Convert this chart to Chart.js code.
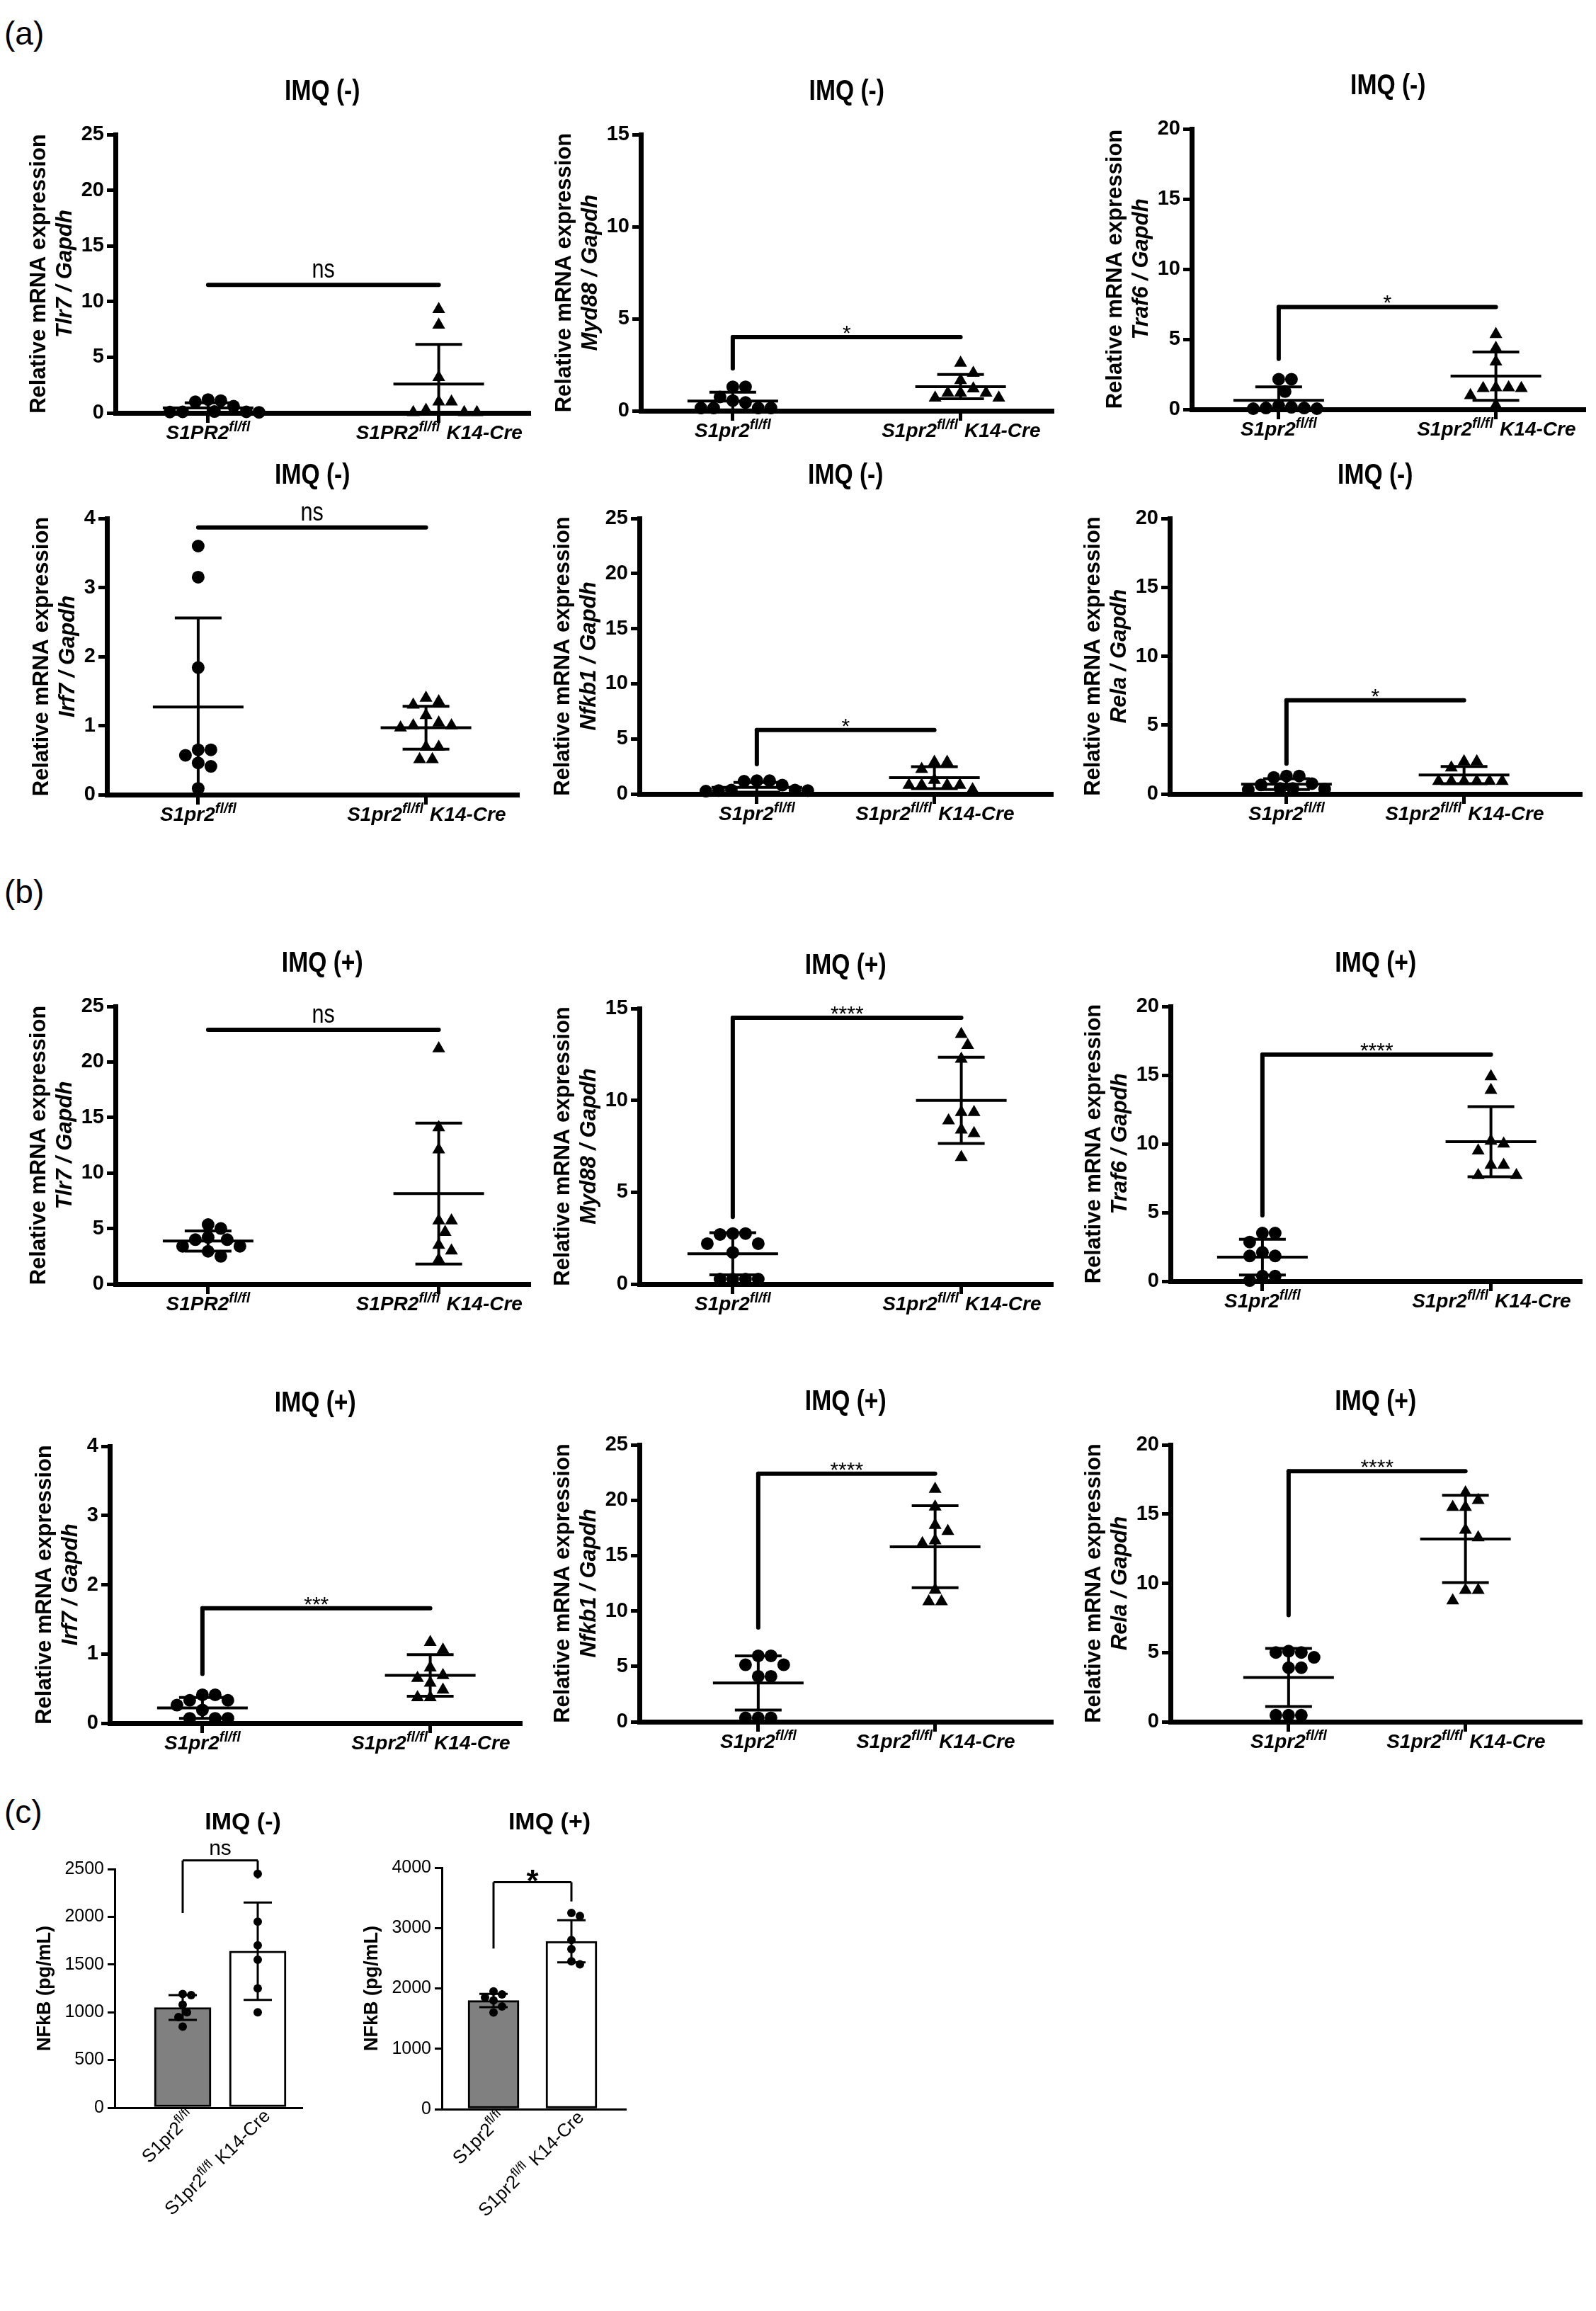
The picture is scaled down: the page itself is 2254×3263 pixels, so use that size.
<!DOCTYPE html>
<html>
<head>
<meta charset="utf-8">
<script src="https://cdn.jsdelivr.net/npm/chart.js@4.4.0/dist/chart.umd.min.js"></script>
<style>
  body { margin: 0; background: #fff; width: 2254px; height: 3263px; position: relative; overflow: hidden; }
  canvas { position: absolute; }
  .letter { position: absolute; left: 6px; font: 46px "Liberation Sans", Arial, sans-serif; color: #000; }
</style>
</head>
<body>
<div class="letter" style="top:20px">(a)</div>
<div class="letter" style="top:1232px">(b)</div>
<div class="letter" style="top:2531px">(c)</div>
<script>
// ---- labels ----
const groupsUpper = [["S1PR2", "fl/fl", ""], ["S1PR2", "fl/fl", " K14-Cre"]];
const groupsLower = [["S1pr2", "fl/fl", ""], ["S1pr2", "fl/fl", " K14-Cre"]];
const yTitleMain = "Relative mRNA expression";

// ---- (a) IMQ (-) ----
const tlr7NegFl = [1.2, 1.1, 0.1, 0.05, 0.08, 0.1, 0.12, 0.6, 1.0];
const tlr7NegCre = [9.3, 7.9, 3.2, 1.0, 1.0, 0.05, 0.05, 0.05, 0.25];
const tlr7NegMean = [0.45, 2.6];
const tlr7NegSd = [0.45, 3.55];

const myd88NegFl = [1.3, 1.3, 0.75, 0.45, 0.55, 0.15, 0.15, 0.15, 0.15];
const myd88NegCre = [2.6, 2.05, 1.65, 1.2, 0.97, 0.97, 0.97, 0.7, 0.7];
const myd88NegMean = [0.53, 1.31];
const myd88NegSd = [0.48, 0.66];

const traf6NegFl = [2.15, 2.15, 1.27, 0.15, 0.1, 0.05, 0.1, 0.25, 0.05];
const traf6NegCre = [5.35, 4.37, 3.4, 1.55, 1.5, 1.55, 1.5, 1.0, 0.3];
const traf6NegMean = [0.65, 2.37];
const traf6NegSd = [0.95, 1.72];

const irf7NegFl = [3.6, 3.15, 1.84, 0.65, 0.65, 0.57, 0.46, 0.41, 0.09];
const irf7NegCre = [1.4, 1.35, 1.3, 1.15, 1.04, 1.0, 1.0, 0.97, 0.69, 0.69, 0.51, 0.51];
const irf7NegMean = [1.27, 0.97];
const irf7NegSd = [1.29, 0.31];

const nfkb1NegFl = [1.2, 1.15, 1.2, 0.8, 0.35, 0.3, 0.25, 0.3, 0.35];
const nfkb1NegCre = [2.9, 2.9, 2.25, 1.25, 0.8, 0.8, 0.8, 0.8, 0.4];
const nfkb1NegMean = [0.6, 1.48];
const nfkb1NegSd = [0.44, 1.0];

const relaNegFl = [1.3, 1.2, 1.3, 0.75, 0.65, 0.4, 0.3, 0.35, 0.4];
const relaNegCre = [1.9, 2.35, 2.35, 0.92, 0.92, 0.92, 0.92, 0.92, 0.92];
const relaNegMean = [0.71, 1.37];
const relaNegSd = [0.39, 0.62];

// ---- (b) IMQ (+) ----
const tlr7PosFl = [5.35, 5.0, 4.2, 4.0, 4.0, 3.4, 3.4, 2.95, 2.5];
const tlr7PosCre = [21.2, 14.1, 12.1, 5.7, 5.7, 4.67, 3.5, 3.0, 2.2];
const tlr7PosMean = [3.87, 8.15];
const tlr7PosSd = [0.91, 6.35];

const myd88PosFl = [2.75, 2.75, 2.7, 2.2, 2.2, 1.72, 0.27, 0.27, 0.27, 0.27];
const myd88PosCre = [13.6, 13.0, 12.25, 9.35, 9.35, 8.9, 8.4, 8.2, 6.9];
const myd88PosMean = [1.65, 10.0];
const myd88PosSd = [1.15, 2.35];

const traf6PosFl = [3.5, 3.5, 2.85, 2.1, 1.84, 1.84, 0.37, 0.37, 0.05];
const traf6PosCre = [14.9, 13.9, 10.0, 10.2, 9.5, 8.45, 8.45, 7.7, 7.7];
const traf6PosMean = [1.75, 10.15];
const traf6PosSd = [1.3, 2.55];

const irf7PosFl = [0.41, 0.41, 0.33, 0.33, 0.26, 0.19, 0.07, 0.07, 0.07];
const irf7PosCre = [1.17, 1.06, 0.8, 0.69, 0.65, 0.58, 0.48, 0.37, 0.37];
const irf7PosMean = [0.22, 0.69];
const irf7PosSd = [0.15, 0.3];

const nfkb1PosFl = [5.95, 5.95, 5.14, 5.14, 4.1, 4.1, 0.35, 0.35, 0.35];
const nfkb1PosCre = [21.0, 19.4, 17.75, 17.2, 16.35, 16.1, 11.9, 10.85, 10.85];
const nfkb1PosMean = [3.5, 15.8];
const nfkb1PosSd = [2.45, 3.7];

const relaPosFl = [5.0, 5.0, 5.1, 4.65, 3.9, 3.9, 0.47, 0.47, 0.47];
const relaPosCre = [16.55, 16.0, 15.5, 15.5, 13.85, 13.3, 9.5, 9.5, 8.75];
const relaPosMean = [3.2, 13.2];
const relaPosSd = [2.1, 3.15];

// ---- (c) NFkB ELISA ----
const nfkbNegFl = [1180, 1190, 1080, 1000, 950, 850];
const nfkbNegCre = [2450, 1950, 1700, 1550, 1250, 1000];
const nfkbNegMean = [1050, 1640];
const nfkbNegSd = [130, 510];

const nfkbPosFl = [1950, 1900, 1850, 1800, 1700, 1600];
const nfkbPosCre = [3250, 3200, 2800, 2650, 2450, 2400];
const nfkbPosMean = [1800, 2780];
const nfkbPosSd = [110, 350];

const FONT = '"Liberation Sans", Arial, Helvetica, sans-serif';

// place points side by side when they would overlap (like a dot plot)
function swarm(values, center, pxX, pxY, diam) {
  const placed = [];
  const out = new Array(values.length);
  const order = values.map((v, i) => i).sort((a, b) => values[b] - values[a]);
  order.forEach(i => {
    const py = values[i] * pxY;
    let off = 0;
    for (let k = 0; k < 80; k++) {
      const cand = (k % 2 ? 1 : -1) * Math.ceil(k / 2) * diam * 0.5;
      if (placed.every(q => Math.hypot(q.x - cand, q.y - py) >= diam * 0.98)) { off = cand; break; }
    }
    placed.push({ x: off, y: py });
    out[i] = { x: center + off / pxX, y: values[i] };
  });
  return out;
}

function seg(ctx, x1, y1, x2, y2) {
  ctx.beginPath();
  ctx.moveTo(x1, y1);
  ctx.lineTo(x2, y2);
  ctx.stroke();
}

// label with superscript part, e.g. S1pr2^fl/fl K14-Cre
function labelWidth(ctx, parts, size, style) {
  ctx.font = `${style} ${size}px ${FONT}`;
  let w = ctx.measureText(parts[0]).width + ctx.measureText(parts[2]).width;
  ctx.font = `${style} ${Math.round(size * 0.7)}px ${FONT}`;
  return w + ctx.measureText(parts[1]).width;
}
function drawLabel(ctx, parts, x, y, size, style) {
  ctx.textAlign = 'left';
  ctx.textBaseline = 'alphabetic';
  ctx.font = `${style} ${size}px ${FONT}`;
  ctx.fillText(parts[0], x, y);
  x += ctx.measureText(parts[0]).width;
  ctx.font = `${style} ${Math.round(size * 0.7)}px ${FONT}`;
  ctx.fillText(parts[1], x, y - size * 0.38);
  x += ctx.measureText(parts[1]).width + size * 0.05;
  ctx.font = `${style} ${size}px ${FONT}`;
  ctx.fillText(parts[2], x, y);
}

// narrow bold text, close to the condensed face of the original
function condensedText(ctx, txt, x, y, size, weight, squeeze) {
  ctx.save();
  ctx.translate(x, y);
  ctx.scale(squeeze, 1);
  ctx.font = `${weight} ${size}px ${FONT}`;
  ctx.textAlign = 'center';
  ctx.fillText(txt, 0, 0);
  ctx.restore();
}

function makeCanvas(left, top, w, h) {
  const c = document.createElement('canvas');
  c.width = w; c.height = h;
  c.style.left = left + 'px';
  c.style.top = top + 'px';
  c.style.width = w + 'px';
  c.style.height = h + 'px';
  document.body.appendChild(c);
  return c;
}

// ---- dot plot panels (a) and (b) ----
function dotPlotPlugin(p) {
  return {
    id: 'dotPlot',
    afterDraw(chart) {
      const { ctx, chartArea: a, scales: { x, y } } = chart;
      const cx = [x.getPixelForValue(1), x.getPixelForValue(2)];
      ctx.save();
      ctx.strokeStyle = '#000';
      ctx.fillStyle = '#000';

      // mean and SD
      ctx.lineWidth = 4;
      p.mean.forEach((m, i) => {
        const hi = y.getPixelForValue(m + p.sd[i]);
        const lowVal = m - p.sd[i];
        const lo = y.getPixelForValue(Math.max(lowVal, 0));
        const my = y.getPixelForValue(m);
        seg(ctx, cx[i] - 64, my, cx[i] + 64, my);
        seg(ctx, cx[i], hi, cx[i], lo);
        seg(ctx, cx[i] - 33, hi, cx[i] + 33, hi);
        if (lowVal > 0) seg(ctx, cx[i] - 33, lo, cx[i] + 33, lo);
      });

      // significance bracket
      const by = y.getPixelForValue(p.sig.y);
      ctx.lineWidth = 6;
      ctx.lineCap = 'round';
      seg(ctx, cx[0], by, cx[1], by);
      if (p.sig.leg !== null) seg(ctx, cx[0], by, cx[0], y.getPixelForValue(p.sig.leg));
      ctx.textBaseline = 'alphabetic';
      if (p.sig.text === 'ns') {
        condensedText(ctx, 'ns', (cx[0] + cx[1]) / 2, by - 10, 36, 'normal', 0.85);
      } else {
        condensedText(ctx, p.sig.text, (cx[0] + cx[1]) / 2, by + 4, 30, 'normal', 1);
      }

      // title
      ctx.textBaseline = 'middle';
      condensedText(ctx, p.title, (a.left + a.right) / 2, a.top - 60, 41, 'bold', 0.82);

      // group labels
      p.labels.forEach((parts, i) => {
        const w = labelWidth(ctx, parts, 28, 'italic bold');
        drawLabel(ctx, parts, cx[i] - w / 2, a.bottom + 37, 28, 'italic bold');
      });

      // y axis title (two lines)
      ctx.font = `bold 29px ${FONT}`;
      const tickW = ctx.measureText(String(p.yMax)).width;
      const x2 = a.left - 16 - tickW - 22;
      const x1 = x2 - 37;
      const yc = (a.top + a.bottom) / 2;
      ctx.textAlign = 'center';
      ctx.textBaseline = 'middle';
      [[x1, 'bold', yTitleMain], [x2, 'italic bold', p.gene + ' / Gapdh']].forEach(([lx, st, txt]) => {
        ctx.save();
        ctx.translate(lx, yc);
        ctx.rotate(-Math.PI / 2);
        ctx.font = `${st} 31px ${FONT}`;
        ctx.fillText(txt, 0, 0);
        ctx.restore();
      });
      ctx.restore();
    }
  };
}

function dotPanel(p) {
  const b = p.box;
  const padL = 175, padT = 100, padR = 10, padB = 60;
  const w = b.right - b.axisX + padL + padR;
  const h = b.y0 - b.yTop + padT + padB;
  const canvas = makeCanvas(b.axisX - padL, b.yTop - padT, w, h);
  const ppu = b.cat2 - b.cat1;
  const pxY = (b.y0 - b.yTop) / p.yMax;
  new Chart(canvas, {
    type: 'scatter',
    data: {
      datasets: [
        { data: swarm(p.fl, 1, ppu, pxY, 18), pointStyle: 'circle', pointRadius: 9, backgroundColor: '#000', borderWidth: 0, clip: false },
        { data: swarm(p.cre, 2, ppu, pxY, 18), pointStyle: 'triangle', pointRadius: 10.5, backgroundColor: '#000', borderColor: '#000', borderWidth: 0, clip: false }
      ]
    },
    options: {
      responsive: false,
      animation: false,
      events: [],
      layout: { padding: { left: 0, top: padT, right: padR, bottom: 0 } },
      plugins: { legend: { display: false }, tooltip: { enabled: false } },
      scales: {
        x: {
          type: 'linear',
          min: 1 - (b.cat1 - b.axisX) / ppu,
          max: 2 + (b.right - b.cat2) / ppu,
          afterBuildTicks: s => { s.ticks = [{ value: 1 }, { value: 2 }]; },
          afterFit: s => { s.height = padB; },
          ticks: { display: false },
          grid: { drawOnChartArea: false, drawTicks: true, tickLength: 14, lineWidth: 5, color: '#000' },
          border: { display: true, width: 7, color: '#000' }
        },
        y: {
          min: 0,
          max: p.yMax,
          afterFit: s => { s.width = padL; },
          ticks: { stepSize: p.step, color: '#000', padding: 4, font: { family: FONT, size: 29, weight: 'bold' } },
          grid: { drawOnChartArea: false, tickLength: 12, lineWidth: 5, color: '#000' },
          border: { display: true, width: 7, color: '#000' }
        }
      }
    },
    plugins: [dotPlotPlugin(p)]
  });
}

const dotPanels = [
  { gene: 'Tlr7', title: 'IMQ (-)', fl: tlr7NegFl, cre: tlr7NegCre, mean: tlr7NegMean, sd: tlr7NegSd, yMax: 25, step: 5,
    sig: { y: 11.5, leg: null, text: 'ns' }, labels: groupsUpper,
    box: { axisX: 163, yTop: 190, y0: 583, cat1: 294, cat2: 620, right: 748 } },
  { gene: 'Myd88', title: 'IMQ (-)', fl: myd88NegFl, cre: myd88NegCre, mean: myd88NegMean, sd: myd88NegSd, yMax: 15, step: 5,
    sig: { y: 4.0, leg: 2.3, text: '*' }, labels: groupsLower,
    box: { axisX: 905, yTop: 190, y0: 580, cat1: 1035, cat2: 1357, right: 1487 } },
  { gene: 'Traf6', title: 'IMQ (-)', fl: traf6NegFl, cre: traf6NegCre, mean: traf6NegMean, sd: traf6NegSd, yMax: 20, step: 5,
    sig: { y: 7.3, leg: 3.6, text: '*' }, labels: groupsLower,
    box: { axisX: 1683, yTop: 182, y0: 578, cat1: 1806, cat2: 2113, right: 2238 } },
  { gene: 'Irf7', title: 'IMQ (-)', fl: irf7NegFl, cre: irf7NegCre, mean: irf7NegMean, sd: irf7NegSd, yMax: 4, step: 1,
    sig: { y: 3.87, leg: null, text: 'ns' }, labels: groupsLower,
    box: { axisX: 151, yTop: 732, y0: 1122, cat1: 280, cat2: 602, right: 732 } },
  { gene: 'Nfkb1', title: 'IMQ (-)', fl: nfkb1NegFl, cre: nfkb1NegCre, mean: nfkb1NegMean, sd: nfkb1NegSd, yMax: 25, step: 5,
    sig: { y: 5.8, leg: 2.7, text: '*' }, labels: groupsLower,
    box: { axisX: 903, yTop: 732, y0: 1121, cat1: 1069, cat2: 1320, right: 1486 } },
  { gene: 'Rela', title: 'IMQ (-)', fl: relaNegFl, cre: relaNegCre, mean: relaNegMean, sd: relaNegSd, yMax: 20, step: 5,
    sig: { y: 6.8, leg: 2.2, text: '*' }, labels: groupsLower,
    box: { axisX: 1652, yTop: 732, y0: 1121, cat1: 1817, cat2: 2068, right: 2233 } },
  { gene: 'Tlr7', title: 'IMQ (+)', fl: tlr7PosFl, cre: tlr7PosCre, mean: tlr7PosMean, sd: tlr7PosSd, yMax: 25, step: 5,
    sig: { y: 22.9, leg: null, text: 'ns' }, labels: groupsUpper,
    box: { axisX: 163, yTop: 1421, y0: 1813, cat1: 294, cat2: 620, right: 748 } },
  { gene: 'Myd88', title: 'IMQ (+)', fl: myd88PosFl, cre: myd88PosCre, mean: myd88PosMean, sd: myd88PosSd, yMax: 15, step: 5,
    sig: { y: 14.5, leg: 3.65, text: '****' }, labels: groupsLower,
    box: { axisX: 903, yTop: 1424, y0: 1813, cat1: 1035, cat2: 1358, right: 1486 } },
  { gene: 'Traf6', title: 'IMQ (+)', fl: traf6PosFl, cre: traf6PosCre, mean: traf6PosMean, sd: traf6PosSd, yMax: 20, step: 5,
    sig: { y: 16.5, leg: 4.8, text: '****' }, labels: groupsLower,
    box: { axisX: 1653, yTop: 1421, y0: 1809, cat1: 1783, cat2: 2106, right: 2233 } },
  { gene: 'Irf7', title: 'IMQ (+)', fl: irf7PosFl, cre: irf7PosCre, mean: irf7PosMean, sd: irf7PosSd, yMax: 4, step: 1,
    sig: { y: 1.66, leg: 0.71, text: '***' }, labels: groupsLower,
    box: { axisX: 155, yTop: 2042, y0: 2433, cat1: 286, cat2: 608, right: 736 } },
  { gene: 'Nfkb1', title: 'IMQ (+)', fl: nfkb1PosFl, cre: nfkb1PosCre, mean: nfkb1PosMean, sd: nfkb1PosSd, yMax: 25, step: 5,
    sig: { y: 22.4, leg: 8.5, text: '****' }, labels: groupsLower,
    box: { axisX: 903, yTop: 2040, y0: 2431, cat1: 1071, cat2: 1321, right: 1486 } },
  { gene: 'Rela', title: 'IMQ (+)', fl: relaPosFl, cre: relaPosCre, mean: relaPosMean, sd: relaPosSd, yMax: 20, step: 5,
    sig: { y: 18.1, leg: 7.7, text: '****' }, labels: groupsLower,
    box: { axisX: 1653, yTop: 2040, y0: 2431, cat1: 1820, cat2: 2070, right: 2233 } }
];
dotPanels.forEach(dotPanel);

// ---- bar panels (c) ----
function barPlugin(p) {
  return {
    id: 'barExtras',
    afterDraw(chart) {
      const { ctx, chartArea: a, scales: { x, y } } = chart;
      const cx = [x.getPixelForValue(1), x.getPixelForValue(2)];
      ctx.save();
      ctx.strokeStyle = '#000';
      ctx.fillStyle = '#000';
      ctx.lineWidth = 3;
      p.mean.forEach((m, i) => {
        const hi = y.getPixelForValue(m + p.sd[i]);
        const lo = y.getPixelForValue(m - p.sd[i]);
        seg(ctx, cx[i], hi, cx[i], lo);
        seg(ctx, cx[i] - 20, hi, cx[i] + 20, hi);
        seg(ctx, cx[i] - 20, lo, cx[i] + 20, lo);
      });
      // bracket
      const by = y.getPixelForValue(p.sig.y);
      seg(ctx, cx[0], y.getPixelForValue(p.sig.legL), cx[0], by);
      seg(ctx, cx[0], by, cx[1], by);
      seg(ctx, cx[1], by, cx[1], y.getPixelForValue(p.sig.legR));
      ctx.textAlign = 'center';
      ctx.textBaseline = 'alphabetic';
      if (p.sig.text === 'ns') {
        ctx.font = `30px ${FONT}`;
        ctx.fillText('ns', (cx[0] + cx[1]) / 2, by - 8);
      } else {
        ctx.font = `bold 44px ${FONT}`;
        ctx.fillText(p.sig.text, (cx[0] + cx[1]) / 2, by + 14);
      }
      // title
      ctx.font = `bold 34px ${FONT}`;
      ctx.textBaseline = 'middle';
      ctx.fillText(p.title, p.titleX - chart.canvas.offsetLeft, p.titleY - chart.canvas.offsetTop);
      // rotated group labels
      p.labels.forEach((parts, i) => {
        const w = labelWidth(ctx, parts, 26, 'normal');
        ctx.save();
        ctx.translate(cx[i] + 18, a.bottom + 14);
        ctx.rotate(-Math.PI / 4);
        drawLabel(ctx, parts, -w, 0, 26, 'normal');
        ctx.restore();
      });
      // y title
      ctx.save();
      ctx.translate(a.left - 98, (a.top + a.bottom) / 2);
      ctx.rotate(-Math.PI / 2);
      ctx.textAlign = 'center';
      ctx.textBaseline = 'middle';
      ctx.font = `bold 27px ${FONT}`;
      ctx.fillText('NFkB (pg/mL)', 0, 0);
      ctx.restore();
      ctx.restore();
    }
  };
}

function barPanel(p) {
  const b = p.box;
  const padL = 150, padT = 110, padR = 10, padB = 190;
  const w = b.right - b.axisX + padL + padR;
  const h = b.y0 - b.yTop + padT + padB;
  const canvas = makeCanvas(b.axisX - padL, b.yTop - padT, w, h);
  const ppu = b.cat2 - b.cat1;
  const pxY = (b.y0 - b.yTop) / p.yMax;
  new Chart(canvas, {
    type: 'bar',
    data: {
      datasets: [
        { type: 'scatter', data: swarm(p.fl, 1, ppu, pxY, 12).concat(swarm(p.cre, 2, ppu, pxY, 12)),
          pointRadius: 6, backgroundColor: '#000', borderWidth: 0, clip: false },
        { type: 'bar', data: p.mean.map((m, i) => ({ x: i + 1, y: m })),
          backgroundColor: ['#808080', '#ffffff'], borderColor: '#000', borderWidth: 3,
          borderSkipped: false, barThickness: p.barWidth, grouped: false }
      ]
    },
    options: {
      responsive: false,
      animation: false,
      events: [],
      layout: { padding: { left: 0, top: padT, right: padR, bottom: 0 } },
      plugins: { legend: { display: false }, tooltip: { enabled: false } },
      scales: {
        x: {
          type: 'linear',
          offset: false,
          min: 1 - (b.cat1 - b.axisX) / ppu,
          max: 2 + (b.right - b.cat2) / ppu,
          afterFit: s => { s.height = padB; },
          ticks: { display: false },
          grid: { display: false, offset: false },
          border: { display: true, width: 3, color: '#000' }
        },
        y: {
          min: 0,
          max: p.yMax,
          afterFit: s => { s.width = padL; },
          ticks: { stepSize: p.step, color: '#000', padding: 5, font: { family: FONT, size: 25 }, callback: v => String(v) },
          grid: { drawOnChartArea: false, tickLength: 10, lineWidth: 3, color: '#000' },
          border: { display: true, width: 3, color: '#000' }
        }
      }
    },
    plugins: [barPlugin(p)]
  });
}

const barPanels = [
  { title: 'IMQ (-)', fl: nfkbNegFl, cre: nfkbNegCre, mean: nfkbNegMean, sd: nfkbNegSd, yMax: 2500, step: 500,
    sig: { y: 2590, legL: 2040, legR: 2400, text: 'ns' }, labels: groupsLower, barWidth: 80, titleX: 343, titleY: 2574,
    box: { axisX: 162, yTop: 2639, y0: 2976, cat1: 258, cat2: 364, right: 427 } },
  { title: 'IMQ (+)', fl: nfkbPosFl, cre: nfkbPosCre, mean: nfkbPosMean, sd: nfkbPosSd, yMax: 4000, step: 1000,
    sig: { y: 3760, legL: 2660, legR: 3440, text: '*' }, labels: groupsLower, barWidth: 72, titleX: 776, titleY: 2574,
    box: { axisX: 624, yTop: 2637, y0: 2978, cat1: 697, cat2: 807, right: 884 } }
];
barPanels.forEach(barPanel);
</script>
</body>
</html>
